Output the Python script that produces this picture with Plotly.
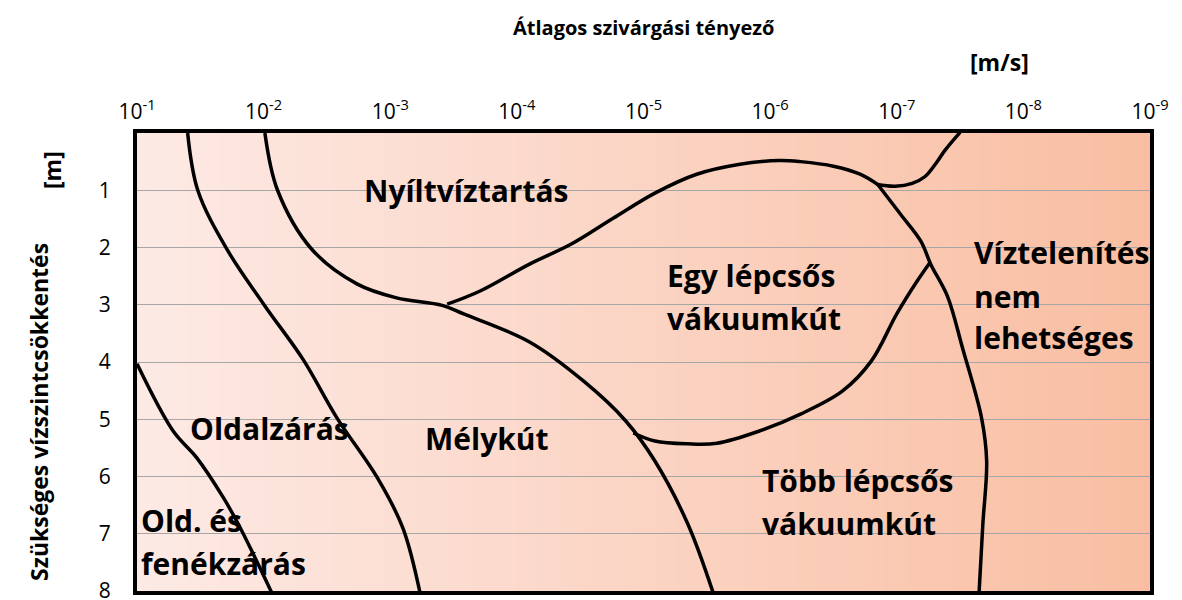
import plotly.graph_objects as go

# Boundary curves: exponent n of the permeability k = 10^-n [m/s] and drawdown depth [m]
fenekzaras_n = [1.0, 1.287, 1.471, 1.682, 1.814, 2.064]
fenekzaras_d = [4.03, 5.21, 5.67, 6.37, 6.89, 8.03]

oldalzaras_n = [1.40, 1.48, 1.71, 2.01, 2.31, 2.58, 2.90, 3.10, 3.235]
oldalzaras_d = [0.0, 1.0, 2.03, 3.02, 3.95, 4.98, 6.03, 6.90, 8.03]

melykut_n = [2.01, 2.11, 2.38, 2.74, 3.05, 3.41, 3.58, 4.10, 4.53, 4.86, 5.09, 5.35, 5.55]
melykut_d = [0.0, 1.0, 2.03, 2.64, 2.88, 3.01, 3.16, 3.65, 4.34, 5.03, 5.73, 6.83, 8.03]

nyiltviz_n = [3.45, 3.71, 4.10, 4.43, 4.76, 5.09, 5.42, 5.75, 6.07, 6.24, 6.50, 6.71, 6.85]
nyiltviz_d = [2.99, 2.76, 2.29, 1.94, 1.49, 1.05, 0.72, 0.55, 0.48, 0.50, 0.58, 0.72, 0.90]

felso_n = [6.845, 6.987, 7.122, 7.224, 7.303, 7.382, 7.50]
felso_d = [0.90, 0.93, 0.88, 0.76, 0.55, 0.30, -0.01]

hatar_n = [6.85, 7.03, 7.19, 7.27, 7.40, 7.52, 7.67, 7.71, 7.68, 7.65]
hatar_d = [0.90, 1.42, 1.89, 2.30, 2.85, 3.76, 4.98, 5.73, 6.83, 8.03]

egylepcsos_n = [4.92, 5.09, 5.35, 5.58, 5.91, 6.24, 6.57, 6.80, 7.0, 7.16, 7.26]
egylepcsos_d = [5.24, 5.38, 5.43, 5.42, 5.21, 4.91, 4.51, 3.98, 3.16, 2.59, 2.27]

curves = [
    (fenekzaras_n, fenekzaras_d),
    (oldalzaras_n, oldalzaras_d),
    (melykut_n, melykut_d),
    (nyiltviz_n, nyiltviz_d),
    (felso_n, felso_d),
    (hatar_n, hatar_d),
    (egylepcsos_n, egylepcsos_d),
]

x_exponents = [1, 2, 3, 4, 5, 6, 7, 8, 9]
x_ticktext = [f"10<sup>-{e}</sup>" for e in x_exponents]
y_ticks = [1, 2, 3, 4, 5, 6, 7, 8]

W, H = 1182, 600
L, R, T, B = 137, 32, 133, 9
PW, PH = W - L - R, H - T - B

FONT = "Open Sans"

fig = go.Figure()
for n_vals, d_vals in curves:
    fig.add_trace(go.Scatter(
        x=[10 ** (-v) for v in n_vals], y=d_vals, mode="lines",
        line=dict(color="black", width=3.5, shape="spline", smoothing=1.0),
        hoverinfo="skip", showlegend=False,
    ))

# horizontal colour gradient behind the plot area
c0 = (253, 234, 229)
c1 = (249, 190, 162)
steps = 160
shapes = []
for i in range(steps):
    t = (i + 0.5) / steps
    col = tuple(round(a + (b - a) * t) for a, b in zip(c0, c1))
    shapes.append(dict(
        type="rect", xref="paper", yref="paper",
        x0=i / steps, x1=(i + 1) / steps + 0.002, y0=0, y1=1,
        fillcolor=f"rgb{col}", line=dict(width=0), layer="below",
    ))


def px(x):
    return (x - L) / PW


def py(y):
    return (H - B - y) / PH


annotations = [
    dict(text="<b>Átlagos szivárgási tényező</b>", x=0.5, y=py(28),
         xanchor="center", yanchor="middle", font=dict(size=20)),
    dict(text="<b>[m/s]</b>", x=px(999), y=py(62),
         xanchor="center", yanchor="middle", font=dict(size=23)),
    dict(text="<b>Szükséges vízszintcsökkentés</b>", x=px(39), y=py(412),
         xanchor="center", yanchor="middle", textangle=-90, font=dict(size=23)),
    dict(text="<b>[m]</b>", x=px(52), y=py(170),
         xanchor="center", yanchor="middle", textangle=-90, font=dict(size=23)),
]

region_labels = [
    ("Nyíltvíztartás", 362, 190),
    ("Egy lépcsős", 665, 275),
    ("vákuumkút", 665, 318),
    ("Víztelenítés", 972, 252),
    ("nem", 972, 296),
    ("lehetséges", 972, 337),
    ("Oldalzárás", 188, 428),
    ("Mélykút", 423, 438),
    ("Több lépcsős", 760, 480),
    ("vákuumkút", 760, 523),
    ("Old. és", 139, 520),
    ("fenékzárás", 139, 563),
]
for text, lx, ly in region_labels:
    annotations.append(dict(
        text=f"<b>{text}</b>", x=px(lx), y=py(ly), xanchor="left", yanchor="middle",
        font=dict(size=30),
    ))

for a in annotations:
    a.update(xref="paper", yref="paper", showarrow=False)

fig.update_layout(
    width=W, height=H,
    margin=dict(l=L, r=R, t=T, b=B),
    paper_bgcolor="white", plot_bgcolor="rgb(251,213,197)",
    font=dict(family=FONT, color="black"),
    shapes=shapes, annotations=annotations,
    xaxis=dict(
        type="log", range=[-1, -9], side="top",
        tickvals=[10 ** (-e) for e in x_exponents], ticktext=x_ticktext,
        tickfont=dict(size=21), ticks="outside", ticklen=2,
        tickcolor="rgba(0,0,0,0)", showgrid=False, zeroline=False,
        showline=True, linecolor="black", linewidth=4, mirror=True,
        automargin=False, ticklabeloverflow="allow",
    ),
    yaxis=dict(
        range=[8, 0], tickvals=y_ticks, tickfont=dict(size=21),
        ticks="outside", ticklen=18, tickcolor="rgba(0,0,0,0)",
        showgrid=True, gridcolor="#A6A6A6", gridwidth=1, zeroline=False,
        showline=True, linecolor="black", linewidth=4, mirror=True,
        automargin=False, ticklabeloverflow="allow",
    ),
)

fig.write_html("out.html")
